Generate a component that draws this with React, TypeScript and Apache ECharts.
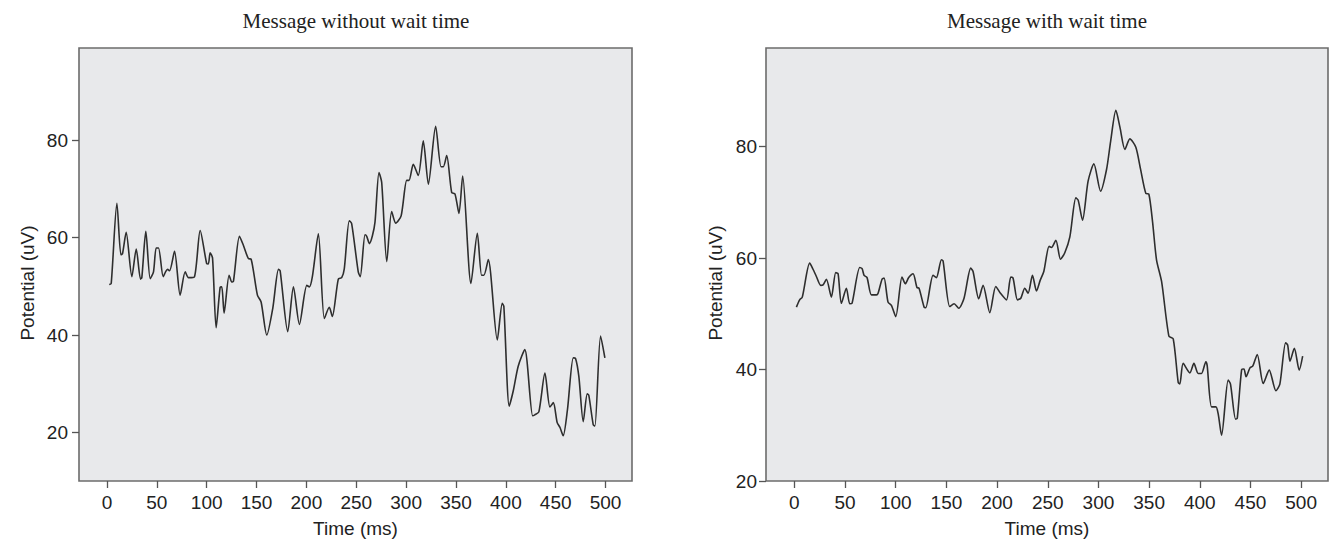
import React, { useEffect, useRef } from "react";
import * as echarts from "echarts";

// Panel A: Message without wait time
const timeA = [
  2.3, 4.3, 10, 14, 15.6, 19.3, 25, 29.4, 33.7, 35,
  39, 43.4, 46.7, 49.4, 51.7, 56.4, 58.8, 60.8, 62.8, 67.8,
  73.4, 78.5, 81.8, 87.8, 93.5, 100, 101.7, 103.5, 105.9, 109.5,
  113.5, 115.2, 117.5, 122.5, 125.2, 126.9, 132.9, 136.9, 141.9, 144.6,
  150.9, 154.6, 160.3, 166.3, 172, 173.7, 181.3, 187, 193, 200.4,
  203, 206, 212, 218, 223, 226, 232, 235.4, 238, 243,
  245.4, 252, 254,
  258.8, 260.5, 263.2, 266.2, 268.8, 272.8, 275.5, 280.6, 285.5, 289.6,
  295, 300.6, 302.9, 307.2, 312.2, 317.2, 322.3, 329.6, 335, 337.3,
  340.7, 345.7, 349, 353, 356.7, 365, 371.4, 375.7, 378, 382.4,
  391.4, 396.4, 398, 403.4, 407.4, 412.4, 419, 426.9, 429, 433.1,
  439.2, 444.2, 447.6, 451.5, 454.3, 457.5, 461.8, 467.6, 469.9, 473.2,
  477.6, 481.6, 483.2, 487.6, 489.3, 495, 499.3,
];
const potentialA = [
  50.4, 50.6, 67.1, 56.5, 56.7, 61.1, 52.0, 57.7, 51.5, 51.8,
  61.3, 51.6, 53.0, 57.9, 57.9, 52.0, 53.0, 53.5, 53.2, 57.2,
  48.2, 53.0, 51.8, 52.0, 61.5, 54.7, 54.6, 56.9, 55.8, 41.5,
  49.8, 49.9, 44.5, 52.3, 50.9, 51.1, 60.3, 58.4, 55.7, 55.6,
  48.2, 46.8, 40.0, 45.5, 53.5, 53.2, 40.7, 49.9, 42.2, 50.2,
  49.9, 52.0, 60.8, 43.4, 45.7, 43.8, 51.5, 51.8, 53.6, 63.5,
  62.9, 53.0, 52.0,
  60.6, 60.3, 58.8, 60.4, 63.2, 73.4, 71.4, 55.1, 65.4, 63.0,
  64.5, 71.8, 71.8, 75.1, 72.8, 79.9, 71.0, 82.9, 74.6, 74.6,
  76.9, 69.3, 69.0, 65.0, 72.7, 50.6, 60.9, 52.3, 52.3, 55.5,
  39.0, 46.5, 45.9, 25.4, 28.5, 33.6, 37.0, 23.4, 23.6, 24.2,
  32.2, 25.2, 26.1, 22.0, 21.0, 19.3, 24.7, 35.3, 35.2, 31.5,
  22.2, 27.9, 27.6, 21.6, 21.3, 39.8, 35.3,
];

// Panel B: Message with wait time
const timeB = [
  2, 5.2, 7.8, 15.1, 18.4, 21.7, 26, 28.3, 31.6, 36.5,
  40.8, 43.1, 46.4, 51.3, 54.6, 56.9, 64.5, 66.8, 68.8, 71.7,
  76, 81, 82.6, 86.5, 88.5, 92.4, 95.7, 100, 106.2, 109.5,
  112.8, 117.1, 121, 123, 128, 129.6, 136.8, 140.1, 145.1, 146.7,
  153.3, 157.6, 162.2, 167.4, 174, 176.3, 181.9, 186.2, 192.8, 198.7,
  203.3, 209.3, 213.5, 215.8, 220.1, 223.4, 227.3, 230.6, 234.9, 238.9,
  242.5,
  246.1, 251.3, 253.6, 258, 262.6, 266.9, 271.8, 277.7, 280, 284.3,
  289.8, 295.5, 302.1, 308, 312, 317.2, 321.2, 326.1, 331, 336.9,
  341.5, 346.8, 349.7, 353.4, 357.3, 362.3, 369.5, 373.8, 378.7, 380.3,
  383.6, 390.2, 394.2, 398.4, 401.7, 406, 407.3, 411.6, 415.9, 418.2,
  421.5, 428, 430.3, 435.3, 437, 441.3, 443.6, 445.6, 449.5, 452.2,
  456.7, 462.6, 468.5, 475.1, 479, 484.7, 486.7, 489, 493.3, 498.1,
  501.5,
];
const potentialB = [
  51.2, 52.5, 53.0, 59.1, 58.0, 56.7, 55.1, 55.2, 56.2, 53.0,
  57.4, 57.2, 51.9, 54.6, 51.8, 51.9, 58.3, 58.1, 56.9, 56.5,
  53.4, 53.4, 53.7, 56.2, 56.4, 52.1, 51.5, 49.5, 56.6, 55.4,
  56.5, 57.2, 54.7, 54.6, 51.2, 51.1, 56.9, 56.5, 59.7, 59.5,
  51.3, 51.8, 51.0, 52.8, 58.2, 57.6, 52.7, 55.1, 50.2, 54.9,
  53.7, 52.5, 56.6, 56.4, 52.5, 52.8, 54.6, 53.7, 56.9, 54.1,
  56.0,
  57.6, 62.1, 61.9, 63.2, 59.8, 61.0, 63.8, 70.8, 70.4, 66.8,
  73.8, 76.9, 72.0, 75.9, 80.9, 86.5, 83.5, 79.5, 81.4, 79.9,
  76.0, 71.6, 71.5, 66.5, 59.7, 55.8, 46.0, 45.5, 37.7, 37.4,
  41.1, 39.4, 41.1, 39.3, 39.3, 41.4, 40.7, 33.3, 33.3, 32.0,
  28.2, 38.1, 37.4, 31.1, 31.3, 40.0, 40.1, 38.7, 40.3, 40.6,
  42.7, 37.5, 39.9, 36.2, 37.4, 44.8, 44.4, 41.5, 43.8, 39.9,
  42.4,
];

const xTicks = [0, 50, 100, 150, 200, 250, 300, 350, 400, 450, 500];
const yTicks = [20, 40, 60, 80];
const titles = ["Message without wait time", "Message with wait time"];
const xName = "Time (ms)";
const yName = "Potential (uV)";

const SANS = "'Liberation Sans', Arial, sans-serif";
const SERIF = "'Liberation Serif', 'Times New Roman', serif";

export default function App() {
  const ref = useRef<HTMLDivElement>(null);

  useEffect(() => {
    document.body.style.margin = "0";
    if (!ref.current) return;
    const chart = echarts.init(ref.current, undefined, { renderer: "svg" });

    const grids = [
      { left: 79, top: 48, width: 553, height: 435 },
      { left: 766, top: 48, width: 562, height: 436 },
    ];
    const yRanges = [
      [10, 99],
      [20, 97.7],
    ];

    const gridOpts = grids.map((g) => ({
      ...g,
      show: true,
      backgroundColor: "#e8e9eb",
      borderColor: "#6c6c6c",
      borderWidth: 1.6,
    }));

    const xAxes = grids.map((g, i) => ({
      type: "value",
      gridIndex: i,
      position: "bottom",
      min: -28,
      max: 526.5,
      name: xName,
      nameLocation: "middle",
      nameGap: 38,
      nameTextStyle: { fontFamily: SANS, fontSize: 19, color: "#222" },
      axisLine: { show: false, onZero: false },
      splitLine: { show: false },
      axisTick: {
        show: true,
        inside: false,
        length: 7,
        customValues: xTicks,
        lineStyle: { color: "#555", width: 1.3 },
      },
      axisLabel: {
        customValues: xTicks,
        margin: 12,
        fontFamily: SANS,
        fontSize: 19,
        color: "#222",
      },
    }));

    const yAxes = grids.map((g, i) => ({
      type: "value",
      gridIndex: i,
      position: "left",
      min: yRanges[i][0],
      max: yRanges[i][1],
      axisLine: { show: false, onZero: false },
      splitLine: { show: false },
      axisTick: {
        show: true,
        inside: false,
        length: 7,
        customValues: yTicks,
        lineStyle: { color: "#555", width: 1.3 },
      },
      axisLabel: {
        customValues: yTicks,
        margin: i === 0 ? 11 : 9,
        fontFamily: SANS,
        fontSize: 19,
        color: "#222",
      },
    }));

    const dataA = timeA.map((t, k) => [t, potentialA[k]]);
    const dataB = timeB.map((t, k) => [t, potentialB[k]]);

    const titleText = (text: string, x: number) => ({
      type: "text",
      x,
      y: 21,
      style: {
        text,
        font: `21px ${SERIF}`,
        fill: "#222",
        align: "center",
        verticalAlign: "middle",
      },
    });
    const yNameText = (x: number) => ({
      type: "text",
      x,
      y: 283,
      rotation: Math.PI / 2,
      style: {
        text: yName,
        font: `19px ${SANS}`,
        fill: "#222",
        align: "center",
        verticalAlign: "middle",
      },
    });

    chart.setOption({
      animation: false,
      grid: gridOpts,
      xAxis: xAxes,
      yAxis: yAxes,
      graphic: [
        titleText(titles[0], 356),
        titleText(titles[1], 1047),
        yNameText(27),
        yNameText(715),
      ],
      series: [
        {
          type: "line",
          xAxisIndex: 0,
          yAxisIndex: 0,
          data: dataA,
          showSymbol: false,
          smooth: 0.25,
          lineStyle: { color: "#2e2e2e", width: 1.6 },
        },
        {
          type: "line",
          xAxisIndex: 1,
          yAxisIndex: 1,
          data: dataB,
          showSymbol: false,
          smooth: 0.25,
          lineStyle: { color: "#2e2e2e", width: 1.6 },
        },
      ],
    });

    return () => {
      chart.dispose();
    };
  }, []);

  return <div ref={ref} style={{ width: 1330, height: 543 }} />;
}
